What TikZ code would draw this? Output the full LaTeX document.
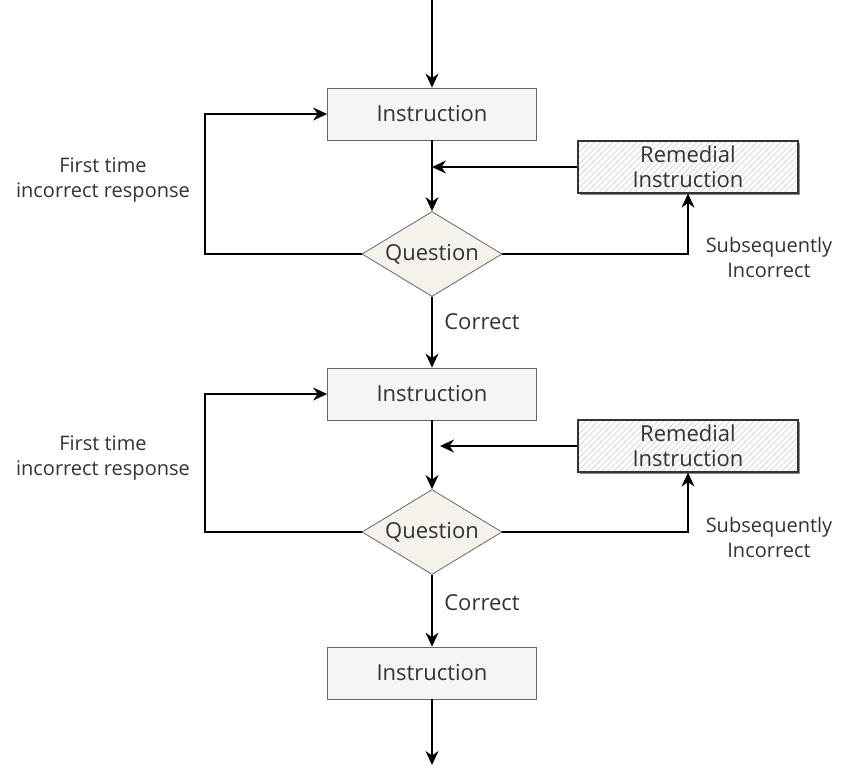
\documentclass[tikz,border=0pt]{standalone}
\usepackage{fontspec}
\setmainfont{Open Sans}
\usetikzlibrary{shapes.geometric,patterns,shadows,arrows.meta}
\definecolor{boxfill}{HTML}{F5F5F5}
\definecolor{boxline}{HTML}{666666}
\definecolor{qfill}{HTML}{F4F2EA}
\definecolor{txt}{HTML}{333333}

\begin{document}
\begin{tikzpicture}[x=0.5pt,y=-0.5pt,
    font=\fontsize{11}{12.5}\selectfont, text=txt,
    instr/.style={draw=boxline, fill=boxfill, minimum width=104.5pt, minimum height=26pt, inner sep=0pt},
    remedial/.style={draw=black!80, line width=0.6pt, drop shadow={shadow xshift=0.9pt,shadow yshift=-0.9pt,fill=black!45,opacity=1},
      preaction={fill=white}, pattern=north east lines, pattern color=black!15,
      minimum width=110pt, minimum height=26pt, align=center, inner sep=0pt},
    question/.style={diamond, aspect=1.65, draw=boxline, fill=qfill, minimum width=70pt, minimum height=42.5pt, inner sep=0pt},
    lbl/.style={align=center, font=\fontsize{10}{12.5}\selectfont},
    flow/.style={line width=0.65pt, -{Stealth[length=7pt,width=6.5pt]}}]
      \useasboundingbox (0,0) rectangle (842,767);
      % first step
      \coordinate (top) at (432,0);
      \node[instr] (ins1) at (432,114) {Instruction};
      \node[remedial] (rem1) at (688,167) {Remedial\\Instruction};
      \node[question] (q1) at (432,254) {Question};
      \coordinate (lft1) at (205,254);
      \node[lbl] (first1) at (103,180) {First time\\incorrect response};
      \node[lbl] (sub1) at (769,257) {Subsequently\\Incorrect};
      \node (cor1) at (482,322) {Correct};
      % second step
      \node[instr] (ins2) at (432,394) {Instruction};
      \node[remedial] (rem2) at (688,446) {Remedial\\Instruction};
      \node[question] (q2) at (432,532) {Question};
      \coordinate (lft2) at (205,532);
      \node[lbl] (first2) at (103,458) {First time\\incorrect response};
      \node[lbl] (sub2) at (769,537) {Subsequently\\Incorrect};
      \node (cor2) at (482,603) {Correct};
      % last step
      \node[instr] (ins3) at (432,673) {Instruction};
      \coordinate (bot) at (432,765);

      \draw[flow] (top) -- (ins1);
      \draw[flow] (ins1) -- (q1);
      \draw[flow] (rem1.west) -- (ins1.south |- rem1.west);
      \draw[flow] (q1.west) -- (lft1) |- (ins1.west);
      \draw[flow] (q1.east) -| (rem1.south);
      \draw[flow] (q1) -- (ins2);

      \draw[flow] (ins2) -- (q2);
      \draw[flow] (rem2.west) -- ([xshift=4pt]ins2.south |- rem2.west);
      \draw[flow] (q2.west) -- (lft2) |- (ins2.west);
      \draw[flow] (q2.east) -| (rem2.south);
      \draw[flow] (q2) -- (ins3);
      \draw[flow] (ins3) -- (bot);
    \end{tikzpicture}
\end{document}
